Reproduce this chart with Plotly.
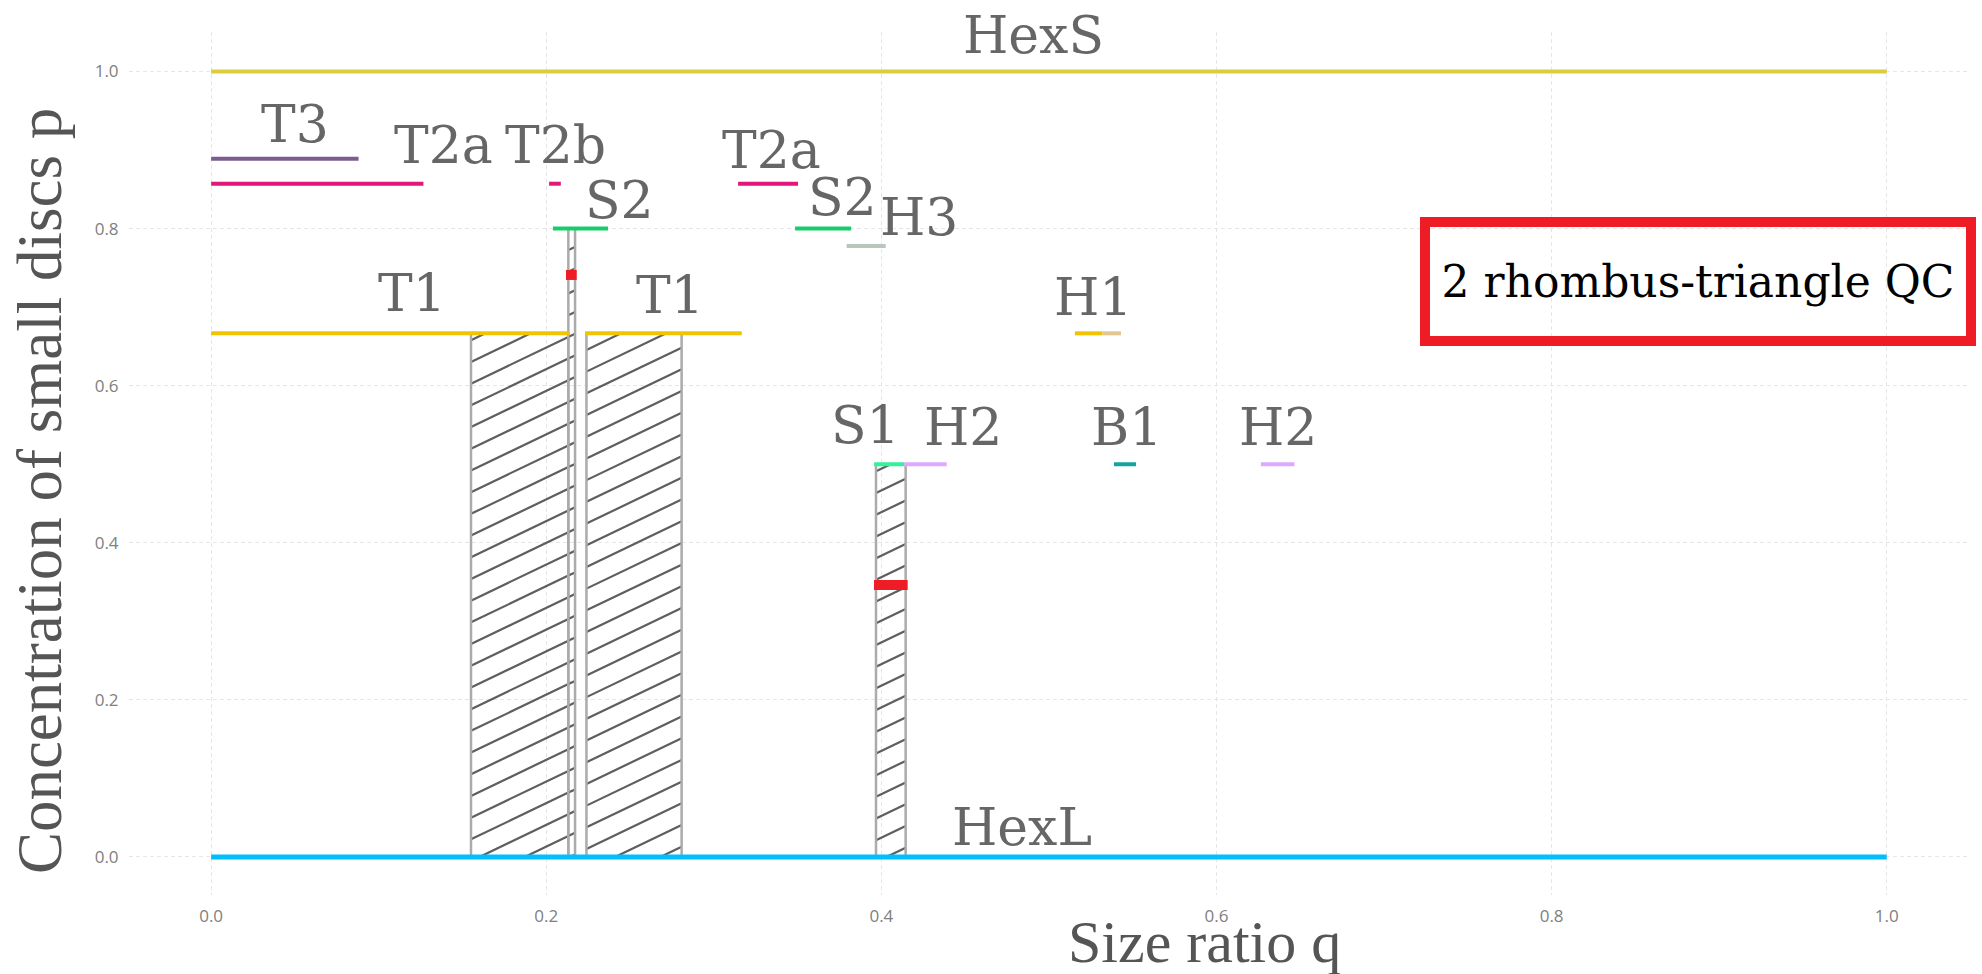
import numpy as np
import plotly.graph_objects as go

# ---------------- data ----------------
# Phase segments: each is a horizontal line at concentration p over a q-interval
seg_phase = ["HexS", "HexL", "T3", "T2a", "T2b", "T2a", "S2", "S2", "H3",
             "T1", "T1", "H1", "H1", "S1", "H2", "B1", "H2"]
seg_q0 = [0.0, 0.0, 0.0, 0.0, 0.2017, 0.3145, 0.2040, 0.3485, 0.3793,
          0.0, 0.2232, 0.5155, 0.5320, 0.3957, 0.4135, 0.5388, 0.6265]
seg_q1 = [1.0, 1.0, 0.0880, 0.1267, 0.2087, 0.3503, 0.2369, 0.3820, 0.4026,
          0.2136, 0.3167, 0.5320, 0.5430, 0.4135, 0.4390, 0.5520, 0.6465]
seg_p = [1.0, 0.0, 8 / 9, 6 / 7, 6 / 7, 6 / 7, 0.8, 0.8, 7 / 9,
         2 / 3, 2 / 3, 2 / 3, 2 / 3, 0.5, 0.5, 0.5, 0.5]

# Phase labels
label_text = ["HexS", "T3", "T2a", "T2b", "T2a", "S2", "S2", "H3", "T1", "T1",
              "H1", "S1", "H2", "B1", "H2", "HexL"]
label_q = [0.4905, 0.0498, 0.1384, 0.2055, 0.3345, 0.2436, 0.3768, 0.4225,
           0.1197, 0.2736, 0.5264, 0.3907, 0.4486, 0.5460, 0.6370, 0.4840]
label_p = [1.0465, 0.9338, 0.9064, 0.9064, 0.9001, 0.8370, 0.8406, 0.8152,
           0.7180, 0.7155, 0.7130, 0.5500, 0.5470, 0.5470, 0.5470, 0.0380]

# Hatched coexistence regions (q-interval, from p = 0 up to p_top)
region_q0 = [0.1551, 0.2132, 0.2240, 0.3968]
region_q1 = [0.2132, 0.2172, 0.2808, 0.4145]
region_p_top = [2 / 3, 0.8, 2 / 3, 0.5]

# Quasicrystal compositions (red marks)
qc_q0 = [0.2118, 0.3956]
qc_q1 = [0.2182, 0.4157]
qc_p = [0.7410, 0.3463]

x_ticks = [0.0, 0.2, 0.4, 0.6, 0.8, 1.0]
y_ticks = [0.0, 0.2, 0.4, 0.6, 0.8, 1.0]

# ---------------- styles ----------------
seg_color = ["#DBCD3D", "#00BFFF", "#7B5C8E", "#E2177A", "#E2177A", "#E2177A",
             "#19CC6B", "#19CC6B", "#B8C6BC", "#F2C300", "#F2C300", "#F2C300",
             "#E3C78E", "#33F29C", "#DDA8FF", "#14A3A3", "#DDA8FF"]
seg_width = [4, 5] + [4] * 15

W, H = 1982, 974
M = dict(l=129, r=14, t=32, b=79)
X_RANGE = [-0.049, 1.0485]
Y_RANGE = [-0.0484, 1.0503]

px_q = (W - M["l"] - M["r"]) / (X_RANGE[1] - X_RANGE[0])
px_p = (H - M["t"] - M["b"]) / (Y_RANGE[1] - Y_RANGE[0])

LABEL_FONT = dict(family="DejaVu Serif", size=52, color="#666666")
TITLE_FONT = dict(family="Liberation Serif", size=63, color="#555555")
TICK_FONT = dict(family="Open Sans", size=17, color="#808080")

fig = go.Figure()


def hatch_lines(q0, q1, p1, slope=0.48, spacing=21.7):
    """Diagonal hatch lines (rising to the right) inside a rectangle,
    laid out in screen pixels so the angle is independent of axis scaling."""
    X0, X1 = (q0 - X_RANGE[0]) * px_q, (q1 - X_RANGE[0]) * px_q
    Y0, Y1 = (0 - Y_RANGE[0]) * px_p, (p1 - Y_RANGE[0]) * px_p
    xs, ys = [], []
    c_lo, c_hi = Y0 - slope * X1, Y1 - slope * X0
    k = np.floor(c_lo / spacing)
    while k * spacing <= c_hi:
        c = k * spacing
        a = max(X0, (Y0 - c) / slope)
        b = min(X1, (Y1 - c) / slope)
        if b > a:
            for X in (a, b):
                xs.append(X / px_q + X_RANGE[0])
                ys.append((slope * X + c) / px_p + Y_RANGE[0])
            xs.append(None)
            ys.append(None)
        k += 1
    return xs, ys


# Coexistence regions: hatch + outline
for q0, q1, pt in zip(region_q0, region_q1, region_p_top):
    hx, hy = hatch_lines(q0, q1, pt)
    fig.add_trace(go.Scatter(x=hx, y=hy, mode="lines",
                             line=dict(color="#5E5E5E", width=2.2),
                             hoverinfo="skip", showlegend=False))
    fig.add_trace(go.Scatter(x=[q0, q0, q1, q1, q0], y=[0, pt, pt, 0, 0],
                             mode="lines",
                             line=dict(color="#ABABAB", width=2.5),
                             hoverinfo="skip", showlegend=False))

# Phase lines
for name, q0, q1, p, col, w in zip(seg_phase, seg_q0, seg_q1, seg_p,
                                   seg_color, seg_width):
    fig.add_trace(go.Scatter(x=[q0, q1], y=[p, p], mode="lines", name=name,
                             line=dict(color=col, width=w),
                             hoverinfo="skip", showlegend=False))

# Quasicrystal marks
for q0, q1, p in zip(qc_q0, qc_q1, qc_p):
    fig.add_trace(go.Scatter(x=[q0, q1], y=[p, p], mode="lines",
                             line=dict(color="#EE1C25", width=10),
                             hoverinfo="skip", showlegend=False))

annotations = []
for t, q, p in zip(label_text, label_q, label_p):
    annotations.append(dict(x=q, y=p, xref="x", yref="y", text=t,
                            showarrow=False, font=LABEL_FONT,
                            xanchor="center", yanchor="middle"))

annotations.append(dict(x=0.8872, y=0.7327, xref="x", yref="y",
                        text="2 rhombus-triangle QC", showarrow=False,
                        font=dict(family="DejaVu Serif", size=44, color="#000000"),
                        bordercolor="#EE1C25", borderwidth=10, borderpad=0,
                        width=536, height=109, bgcolor="rgba(0,0,0,0)",
                        xanchor="center", yanchor="middle"))

annotations.append(dict(x=0.5851, y=-0.0545, xref="paper", yref="paper",
                        text="Size ratio q", showarrow=False,
                        font=dict(TITLE_FONT, size=60),
                        xanchor="center", yanchor="middle"))
annotations.append(dict(x=-0.0484, y=0.468, xref="paper", yref="paper",
                        text="Concentration of small discs p", showarrow=False,
                        font=TITLE_FONT, textangle=-90,
                        xanchor="center", yanchor="middle"))

axis_common = dict(showgrid=True, gridcolor="#E6E6E6", gridwidth=1,
                   griddash="4px,3px", zeroline=False, showline=False,
                   ticks="outside", ticklen=6, tickcolor="rgba(0,0,0,0)",
                   tickfont=TICK_FONT, tickformat=".1f")

fig.update_layout(
    width=W, height=H, margin=M,
    paper_bgcolor="white", plot_bgcolor="white",
    xaxis=dict(range=X_RANGE, tickvals=x_ticks, **axis_common),
    yaxis=dict(range=Y_RANGE, tickvals=y_ticks, **axis_common),
    annotations=annotations,
    showlegend=False,
)

fig.write_html("out.html")
